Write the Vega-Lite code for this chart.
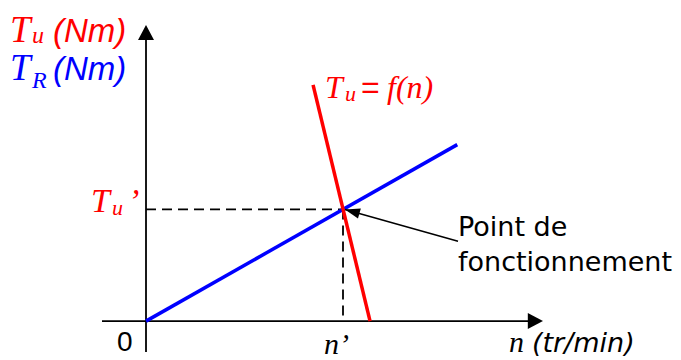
{
  "$schema": "https://vega.github.io/schema/vega-lite/v6.json",
  "width": 681,
  "height": 360,
  "padding": 0,
  "autosize": {"type": "fit", "contains": "padding"},
  "background": "white",
  "config": {"view": {"stroke": null}},
  "encoding": {
    "x": {"field": "n", "type": "quantitative", "scale": {"domain": [-1111.7, 4073.6], "nice": false, "zero": false}, "axis": null},
    "y": {"field": "T", "type": "quantitative", "scale": {"domain": [-6.786, 57.5], "nice": false, "zero": false}, "axis": null}
  },
  "layer": [
    {
      "data": {"values": [{"n": -335, "T": 0, "n2": 2910, "T2": 0}, {"n": 0, "T": -5.54, "n2": 0, "T2": 50.5}]},
      "mark": {"type": "rule", "color": "black", "strokeWidth": 1.8},
      "encoding": {"x2": {"field": "n2"}, "y2": {"field": "T2"}}
    },
    {
      "data": {"values": [{"n": 0, "T": 53.04}]},
      "mark": {"type": "point", "shape": "M0,0L-1,1.9L1,1.9Z", "size": 256, "filled": true, "color": "black", "opacity": 1}
    },
    {
      "data": {"values": [{"n": 3022.8, "T": 0}]},
      "mark": {"type": "point", "shape": "M0,0L-1.9,-1L-1.9,1Z", "size": 256, "filled": true, "color": "black", "opacity": 1}
    },
    {
      "data": {"values": [{"n": 0, "T": 20, "n2": 1500, "T2": 20}, {"n": 1500, "T": 20, "n2": 1500, "T2": 0}]},
      "mark": {"type": "rule", "color": "black", "strokeWidth": 1.8, "strokeDash": [10, 6]},
      "encoding": {"x2": {"field": "n2"}, "y2": {"field": "T2"}}
    },
    {
      "data": {"values": [
        {"series": "TR", "n": 0, "T": 0},
        {"series": "TR", "n": 2370, "T": 31.6},
        {"series": "Tu", "n": 1272, "T": 42.3},
        {"series": "Tu", "n": 1706, "T": 0}
      ]},
      "mark": {"type": "line", "strokeWidth": 3.5},
      "encoding": {"color": {"field": "series", "type": "nominal", "scale": {"domain": ["Tu", "TR"], "range": ["#ff0000", "#0000ff"]}, "legend": null}}
    },
    {
      "data": {"values": [{"n": 1515, "T": 20, "n2": 2375.6, "T2": 14.29}]},
      "mark": {"type": "rule", "color": "black", "strokeWidth": 1.5},
      "encoding": {"x2": {"field": "n2"}, "y2": {"field": "T2"}}
    },
    {
      "data": {"values": [{"n": 1515, "T": 20}]},
      "mark": {"type": "point", "shape": "M0,0L2,-0.7L2,0.7Z", "size": 225, "angle": 15.8, "filled": true, "color": "black", "opacity": 1}
    },
    {
      "data": {"values": [{"series": "Tu", "n": -1035.5, "T": 50.0, "label": "T"}, {"series": "TR", "n": -1035.5, "T": 43.21, "label": "T"}]},
      "mark": {"type": "text", "font": "Liberation Serif", "fontStyle": "italic", "fontSize": 37, "align": "left", "baseline": "alphabetic"},
      "encoding": {"text": {"field": "label"}, "color": {"field": "series", "type": "nominal", "legend": null}}
    },
    {
      "data": {"values": [{"series": "Tu", "n": -868, "T": 49.82, "label": "u"}, {"series": "TR", "n": -868, "T": 41.79, "label": "R"}]},
      "mark": {"type": "text", "font": "Liberation Serif", "fontStyle": "italic", "fontSize": 24, "align": "left", "baseline": "alphabetic"},
      "encoding": {"text": {"field": "label"}, "color": {"field": "series", "type": "nominal", "legend": null}}
    },
    {
      "data": {"values": [{"series": "Tu", "n": -708.1, "T": 50.0, "label": "(Nm)"}, {"series": "TR", "n": -708.1, "T": 43.21, "label": "(Nm)"}]},
      "mark": {"type": "text", "font": "Liberation Sans", "fontStyle": "italic", "fontSize": 33, "align": "left", "baseline": "alphabetic"},
      "encoding": {"text": {"field": "label"}, "color": {"field": "series", "type": "nominal", "legend": null}}
    },
    {
      "data": {"values": [{"series": "Tu", "n": 1363, "T": 40, "label": "T"}, {"series": "Tu", "n": 1835, "T": 40, "label": "f(n)"}]},
      "mark": {"type": "text", "font": "Liberation Serif", "fontStyle": "italic", "fontSize": 32, "align": "left", "baseline": "alphabetic"},
      "encoding": {"text": {"field": "label"}, "color": {"field": "series", "type": "nominal", "legend": null}}
    },
    {
      "data": {"values": [{"series": "Tu", "n": 1515, "T": 39.46, "label": "u"}, {"series": "Tu", "n": -259, "T": 18.93, "label": "u"}]},
      "mark": {"type": "text", "font": "Liberation Serif", "fontStyle": "italic", "fontSize": 22, "align": "left", "baseline": "alphabetic"},
      "encoding": {"text": {"field": "label"}, "color": {"field": "series", "type": "nominal", "legend": null}}
    },
    {
      "data": {"values": [{"series": "Tu", "n": 1637, "T": 40, "label": "="}]},
      "mark": {"type": "text", "font": "Liberation Sans", "fontSize": 32, "align": "left", "baseline": "alphabetic"},
      "encoding": {"text": {"field": "label"}, "color": {"field": "series", "type": "nominal", "legend": null}}
    },
    {
      "data": {"values": [{"series": "Tu", "n": -418.8, "T": 19.46, "label": "T"}, {"series": "Tu", "n": -137, "T": 19.46, "label": "’"}]},
      "mark": {"type": "text", "font": "Liberation Serif", "fontStyle": "italic", "fontSize": 34, "align": "left", "baseline": "alphabetic"},
      "encoding": {"text": {"field": "label"}, "color": {"field": "series", "type": "nominal", "legend": null}}
    },
    {
      "data": {"values": [{"n": -221, "T": -5.4, "label": "0"}]},
      "mark": {"type": "text", "font": "Liberation Sans", "fontSize": 28, "align": "left", "baseline": "alphabetic", "color": "black"},
      "encoding": {"text": {"field": "label"}}
    },
    {
      "data": {"values": [{"n": 1355.3, "T": -5.89, "label": "n’"}, {"n": 2764, "T": -5.536, "label": "n"}]},
      "mark": {"type": "text", "font": "Liberation Serif", "fontStyle": "italic", "fontSize": 30, "align": "left", "baseline": "alphabetic", "color": "black"},
      "encoding": {"text": {"field": "label"}}
    },
    {
      "data": {"values": [{"n": 2939, "T": -5.536, "label": "(tr/min)"}]},
      "mark": {"type": "text", "font": "DejaVu Sans", "fontStyle": "oblique", "fontSize": 27, "align": "left", "baseline": "alphabetic", "color": "black"},
      "encoding": {"text": {"field": "label"}}
    },
    {
      "data": {"values": [{"n": 2375.6, "T": 15.18, "label": "Point de"}, {"n": 2375.6, "T": 8.93, "label": "fonctionnement"}]},
      "mark": {"type": "text", "font": "DejaVu Sans", "fontSize": 27, "align": "left", "baseline": "alphabetic", "color": "black"},
      "encoding": {"text": {"field": "label"}}
    }
  ]
}
